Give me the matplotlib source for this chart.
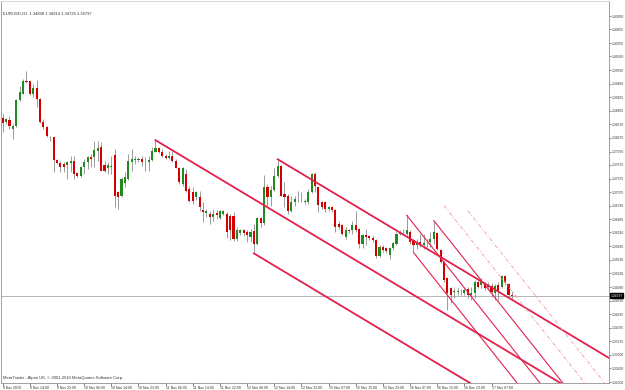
import numpy as np
import matplotlib.pyplot as plt
from matplotlib.transforms import blended_transform_factory

plt.rcParams['font.family'] = ['Liberation Sans', 'DejaVu Sans']

# EURUSD H1 candles (bar index 0 = 9 Nov 2010 06:00)
opens = [1.3870, 1.3861, 1.3866, 1.3846, 1.3853, 1.3910, 1.3924, 1.3951, 1.3951, 1.3923,
         1.3936, 1.3912, 1.3861, 1.3850, 1.3830, 1.3829, 1.3778, 1.3771, 1.3769, 1.3768,
         1.3771, 1.3777, 1.3749, 1.3744, 1.3762, 1.3775, 1.3785, 1.3784, 1.3799, 1.3807,
         1.3768, 1.3760, 1.3762, 1.3790, 1.3707, 1.3700, 1.3727, 1.3736, 1.3775, 1.3779,
         1.3778, 1.3780, 1.3777, 1.3775, 1.3778, 1.3797, 1.3804, 1.3797, 1.3788, 1.3783,
         1.3788, 1.3777, 1.3761, 1.3726, 1.3747, 1.3714, 1.3707, 1.3696, 1.3696, 1.3669,
         1.3662, 1.3659, 1.3654, 1.3662, 1.3651, 1.3660, 1.3660, 1.3656, 1.3656, 1.3605,
         1.3618, 1.3624, 1.3620, 1.3610, 1.3622, 1.3594, 1.3651, 1.3640, 1.3720, 1.3697,
         1.3713, 1.3744, 1.3766, 1.3704, 1.3700, 1.3667, 1.3686, 1.3693, 1.3692, 1.3686,
         1.3686, 1.3708, 1.3748, 1.3719, 1.3686, 1.3686, 1.3671, 1.3675, 1.3668, 1.3638,
         1.3635, 1.3610, 1.3624, 1.3624, 1.3635, 1.3627, 1.3594, 1.3613, 1.3611, 1.3607,
         1.3602, 1.3567, 1.3587, 1.3584, 1.3569, 1.3584, 1.3594, 1.3620, 1.3618, 1.3616,
         1.3620, 1.3602, 1.3591, 1.3598, 1.3591, 1.3598, 1.3598, 1.3605, 1.3618, 1.3581,
         1.3554, 1.3518, 1.3496, 1.3488, 1.3489, 1.3489, 1.3486, 1.3494, 1.3481, 1.3485,
         1.3510, 1.3503, 1.3507, 1.3498, 1.3501, 1.3485, 1.3503, 1.3500, 1.3523, 1.3505,
         1.34808]
highs = [1.3879, 1.3870, 1.3875, 1.3857, 1.3912, 1.3941, 1.3956, 1.3974, 1.3952, 1.3945,
         1.3954, 1.3914, 1.3868, 1.3853, 1.3832, 1.3830, 1.3780, 1.3777, 1.3773, 1.3777,
         1.3788, 1.3788, 1.3751, 1.3766, 1.3780, 1.3788, 1.3791, 1.3821, 1.3821, 1.3817,
         1.3777, 1.3773, 1.3788, 1.3802, 1.3711, 1.3740, 1.3751, 1.3791, 1.3802, 1.3788,
         1.3785, 1.3788, 1.3784, 1.3788, 1.3807, 1.3822, 1.3808, 1.3802, 1.3791, 1.3799,
         1.3799, 1.3780, 1.3762, 1.3764, 1.3758, 1.3721, 1.3718, 1.3711, 1.3711, 1.3686,
         1.3671, 1.3667, 1.3671, 1.3669, 1.3669, 1.3669, 1.3664, 1.3660, 1.3664, 1.3631,
         1.3627, 1.3627, 1.3624, 1.3627, 1.3638, 1.3653, 1.3653, 1.3746, 1.3725, 1.3722,
         1.3761, 1.3780, 1.3768, 1.3730, 1.3703, 1.3700, 1.3700, 1.3711, 1.3708, 1.3693,
         1.3715, 1.3750, 1.3752, 1.3722, 1.3689, 1.3689, 1.3678, 1.3678, 1.3671, 1.3645,
         1.3638, 1.3631, 1.3627, 1.3645, 1.3667, 1.3629, 1.3616, 1.3627, 1.3614, 1.3611,
         1.3604, 1.3591, 1.3591, 1.3587, 1.3587, 1.3598, 1.3620, 1.3624, 1.3627, 1.3657,
         1.3624, 1.3605, 1.3605, 1.3616, 1.3616, 1.3605, 1.3620, 1.3645, 1.3620, 1.3583,
         1.3556, 1.3521, 1.3499, 1.3496, 1.3496, 1.3494, 1.3496, 1.3499, 1.3499, 1.3514,
         1.3514, 1.3518, 1.3510, 1.3510, 1.3507, 1.3505, 1.3510, 1.3525, 1.3525, 1.3507,
         1.34914]
lows = [1.3839, 1.3857, 1.3846, 1.3824, 1.3850, 1.3908, 1.3923, 1.3948, 1.3921, 1.3916,
        1.3894, 1.3859, 1.3846, 1.3828, 1.3821, 1.3751, 1.3769, 1.3751, 1.3751, 1.3736,
        1.3751, 1.3736, 1.3740, 1.3740, 1.3747, 1.3758, 1.3762, 1.3762, 1.3777, 1.3755,
        1.3751, 1.3747, 1.3747, 1.3674, 1.3671, 1.3696, 1.3718, 1.3734, 1.3755, 1.3769,
        1.3775, 1.3766, 1.3755, 1.3755, 1.3776, 1.3795, 1.3793, 1.3784, 1.3780, 1.3780,
        1.3775, 1.3760, 1.3725, 1.3722, 1.3709, 1.3685, 1.3682, 1.3690, 1.3667, 1.3642,
        1.3653, 1.3638, 1.3645, 1.3649, 1.3649, 1.3657, 1.3607, 1.3602, 1.3600, 1.3600,
        1.3614, 1.3611, 1.3598, 1.3598, 1.3573, 1.3591, 1.3631, 1.3636, 1.3678, 1.3678,
        1.3711, 1.3740, 1.3700, 1.3675, 1.3660, 1.3664, 1.3678, 1.3686, 1.3686, 1.3682,
        1.3682, 1.3706, 1.3708, 1.3664, 1.3671, 1.3664, 1.3666, 1.3664, 1.3620, 1.3627,
        1.3613, 1.3605, 1.3618, 1.3616, 1.3620, 1.3584, 1.3584, 1.3591, 1.3602, 1.3598,
        1.3562, 1.3564, 1.3576, 1.3573, 1.3560, 1.3580, 1.3591, 1.3613, 1.3616, 1.3614,
        1.3594, 1.3575, 1.3583, 1.3587, 1.3583, 1.3587, 1.3587, 1.3594, 1.3580, 1.3551,
        1.3510, 1.3448, 1.3463, 1.3474, 1.3481, 1.3481, 1.3481, 1.3474, 1.3470, 1.3474,
        1.3496, 1.3496, 1.3492, 1.3494, 1.3478, 1.3470, 1.3470, 1.3496, 1.3503, 1.3478,
        1.34726]
closes = [1.3859, 1.3868, 1.3853, 1.3853, 1.3910, 1.3927, 1.3951, 1.3950, 1.3923, 1.3936,
          1.3912, 1.3861, 1.3850, 1.3832, 1.3829, 1.3778, 1.3771, 1.3764, 1.3762, 1.3773,
          1.3777, 1.3747, 1.3744, 1.3762, 1.3775, 1.3784, 1.3780, 1.3800, 1.3804, 1.3755,
          1.3755, 1.3768, 1.3766, 1.3700, 1.3696, 1.3736, 1.3740, 1.3777, 1.3780, 1.3779,
          1.3780, 1.3773, 1.3776, 1.3778, 1.3799, 1.3804, 1.3797, 1.3788, 1.3782, 1.3788,
          1.3777, 1.3761, 1.3729, 1.3761, 1.3711, 1.3689, 1.3689, 1.3707, 1.3674, 1.3664,
          1.3667, 1.3653, 1.3659, 1.3657, 1.3667, 1.3667, 1.3620, 1.3624, 1.3605, 1.3624,
          1.3625, 1.3617, 1.3613, 1.3620, 1.3593, 1.3651, 1.3640, 1.3720, 1.3697, 1.3713,
          1.3744, 1.3766, 1.3700, 1.3698, 1.3667, 1.3686, 1.3693, 1.3693, 1.3693, 1.3689,
          1.3708, 1.3748, 1.3722, 1.3679, 1.3676, 1.3671, 1.3675, 1.3668, 1.3631, 1.3631,
          1.3616, 1.3625, 1.3623, 1.3635, 1.3625, 1.3594, 1.3613, 1.3609, 1.3607, 1.3602,
          1.3567, 1.3587, 1.3580, 1.3578, 1.3584, 1.3596, 1.3616, 1.3616, 1.3618, 1.3624,
          1.3598, 1.3591, 1.3598, 1.3591, 1.3596, 1.3597, 1.3605, 1.3620, 1.3583, 1.3554,
          1.3514, 1.3485, 1.3481, 1.3490, 1.3489, 1.3488, 1.3492, 1.3481, 1.3485, 1.3510,
          1.3499, 1.3510, 1.3496, 1.3503, 1.3489, 1.3501, 1.3489, 1.3523, 1.3507, 1.3481,
          1.34797]

time_labels = ["9 Nov 2010", "9 Nov 14:00", "9 Nov 22:00", "10 Nov 06:00", "10 Nov 14:00",
               "10 Nov 22:00", "11 Nov 06:00", "11 Nov 14:00", "11 Nov 22:00", "12 Nov 06:00",
               "12 Nov 14:00", "12 Nov 22:00", "15 Nov 07:00", "15 Nov 15:00", "15 Nov 23:00",
               "16 Nov 07:00", "16 Nov 15:00", "16 Nov 23:00", "17 Nov 07:00"]
time_label_bars = [0, 8, 16, 24, 32, 40, 48, 56, 64, 72, 80, 88, 96, 104, 112, 120, 128, 136, 144]

price_ticks = [1.32900, 1.33200, 1.33500, 1.33795, 1.34095, 1.34395, 1.34690, 1.34990,
               1.35290, 1.35590, 1.35885, 1.36190, 1.36485, 1.36780, 1.37075, 1.37375,
               1.37675, 1.37970, 1.38270, 1.38570, 1.38865, 1.39165, 1.39460, 1.39760,
               1.40060, 1.40355, 1.40655, 1.40950]

# pitchfork pivots: handle, upper, lower (bar index, price)
pf1_bars = [45, 81, 74]
pf1_prices = [1.3822, 1.3780, 1.3573]
pf2_bars = [119, 127, 121]
pf2_prices = [1.3657, 1.3645, 1.3575]
# extra dashed parallels of the second pitchfork
dash_bars = [130, 137]
dash_prices = [1.3678, 1.3667]

last_price = 1.34797

# -------------------------------------------------

fig = plt.figure(figsize=(6.25, 3.9), dpi=100)
ax = fig.add_axes([1 / 625, 7 / 390, 608 / 625, 382 / 390])

x = np.arange(len(opens))
o = np.array(opens)
c = np.array(closes)
up = c >= o

ax.vlines(x, lows, highs, color='#8c8c8c', lw=0.6, zorder=2)
bottom = np.minimum(o, c)
height = np.maximum(np.abs(c - o), 0.00005)
ax.bar(x, height, bottom=bottom, width=0.62,
       color=np.where(up, '#1f8a1f', '#d40000'), linewidth=0, zorder=3)

# current price line
ax.axhline(last_price, color='#a8a8a8', lw=0.6, zorder=1)

# Andrews pitchforks
red = '#e3204c'
far = 260
for bars, prices, lw in [(pf1_bars, pf1_prices, 1.3), (pf2_bars, pf2_prices, 0.8)]:
    mid_bar = (bars[1] + bars[2]) / 2
    mid_price = (prices[1] + prices[2]) / 2
    slope = (mid_price - prices[0]) / (mid_bar - bars[0])
    for b, p in zip(bars, prices):
        ax.plot([b, far], [p, p + slope * (far - b)], color=red, lw=lw, zorder=4)

slope2 = ((pf2_prices[1] + pf2_prices[2]) / 2 - pf2_prices[0]) / ((pf2_bars[1] + pf2_bars[2]) / 2 - pf2_bars[0])
for b, p in zip(dash_bars, dash_prices):
    ax.plot([b, far], [p, p + slope2 * (far - b)], color='#f2a3b5', lw=0.7,
            linestyle=(0, (4, 2, 1, 2)), zorder=4)

ax.set_xlim(-0.5, 178.6)
ax.set_ylim(1.3288, 1.4128)

ax.set_xticks(time_label_bars)
ax.set_xticklabels(time_labels, ha='left', fontsize=2.5, color='#333333')
ax.tick_params(axis='x', length=2, width=0.5, pad=0.5, color='#555555')

ax.yaxis.tick_right()
ax.set_yticks(price_ticks)
ax.set_yticklabels(['%.5f' % v for v in price_ticks], fontsize=2.4, color='#333333')
ax.tick_params(axis='y', length=1.5, width=0.5, pad=0.6, color='#555555')

for s in ax.spines.values():
    s.set_color('#909090')
    s.set_linewidth(0.6)
ax.spines['top'].set_color('#d0d0d0')

trans = blended_transform_factory(ax.transAxes, ax.transData)
ax.text(1.003, last_price, '%.5f' % last_price, transform=trans, fontsize=2.4,
        color='white', va='center', ha='left',
        bbox=dict(boxstyle='square,pad=0.12', fc='black', ec='black'))

ax.text(0.004, 0.968, 'EURUSD,H1  %.5f %.5f %.5f %.5f' % (opens[-1], highs[-1], lows[-1], closes[-1]),
        transform=ax.transAxes, fontsize=3.0, color='#333333', va='center', ha='left')
ax.text(0.004, 0.012, 'MetaTrader - Alpari UK, \u00a9 2001-2010 MetaQuotes Software Corp.',
        transform=ax.transAxes, fontsize=3.0, color='#333333', va='center', ha='left')

fig.savefig('out.png', dpi=100, facecolor='white')
